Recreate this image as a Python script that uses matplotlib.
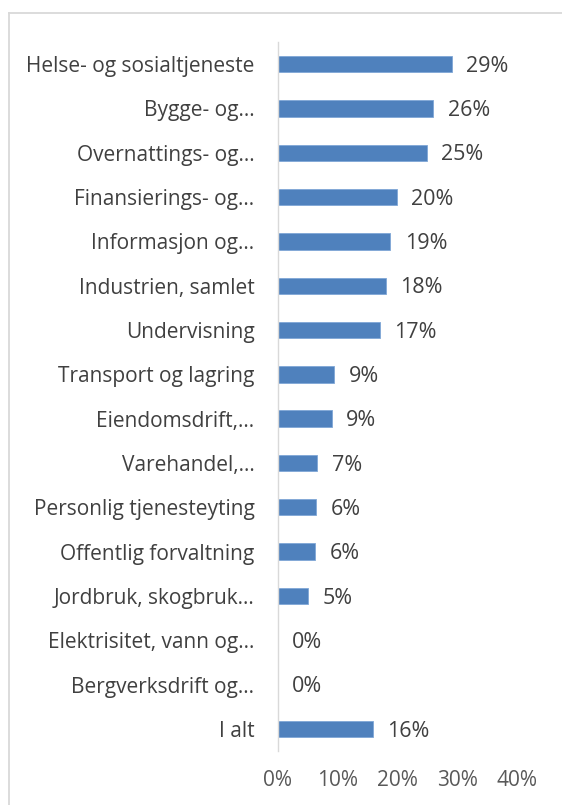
import matplotlib
matplotlib.use("Agg")
import matplotlib.pyplot as plt
from matplotlib.lines import Line2D

categories = [
    "Helse- og sosialtjeneste",
    "Bygge- og…",
    "Overnattings- og…",
    "Finansierings- og…",
    "Informasjon og…",
    "Industrien, samlet",
    "Undervisning",
    "Transport og lagring",
    "Eiendomsdrift,…",
    "Varehandel,…",
    "Personlig tjenesteyting",
    "Offentlig forvaltning",
    "Jordbruk, skogbruk…",
    "Elektrisitet, vann og…",
    "Bergverksdrift og…",
    "I alt",
]
values = [29.1, 26.0, 24.9, 19.9, 18.8, 18.1, 17.1, 9.4, 9.0, 6.6, 6.4, 6.2, 5.0, 0.0, 0.0, 15.9]
x_ticks = [0, 10, 20, 30, 40]

plt.rcParams['font.family'] = ['Open Sans', 'DejaVu Sans']

W, H = 562, 805
fig = plt.figure(figsize=(W / 100, H / 100), dpi=100)
ax = fig.add_axes([278 / W, 1 - 751 / H, (517 - 278) / W, (751 - 42) / H])

y = list(range(len(categories)))
ax.barh(y, values, height=0.37, color='#4f81bd', edgecolor='#7fa6d6', linewidth=0.6)

for yi, v in zip(y, values):
    ax.text(v + 2.4, yi + 0.05, f"{v:.0f}%", va='center', ha='left', fontsize=15.5, color='#404040')

ax.set_xlim(0, 40)
ax.set_ylim(len(categories) - 0.5, -0.5)
ax.set_yticks(y)
ax.set_yticklabels(categories, fontsize=15, color='#404040')
ax.set_xticks(x_ticks)
ax.set_xticklabels([f"{t}%" for t in x_ticks], fontsize=15, color='#595959')
ax.tick_params(axis='y', length=0, pad=17)
ax.tick_params(axis='x', length=0, pad=14)

for side in ['top', 'right', 'bottom']:
    ax.spines[side].set_visible(False)
ax.spines['left'].set_color('#d9d9d9')
ax.spines['left'].set_linewidth(1.0)

# chart frame (only left and top edges visible in the crop)
fig.add_artist(Line2D([8.5 / W, 8.5 / W], [0, 1 - 13 / H], transform=fig.transFigure,
                      color='#d9d9d9', linewidth=1.3))
fig.add_artist(Line2D([8.5 / W, 1], [1 - 13 / H, 1 - 13 / H], transform=fig.transFigure,
                      color='#d9d9d9', linewidth=1.3))

fig.savefig("out.png", dpi=100)
